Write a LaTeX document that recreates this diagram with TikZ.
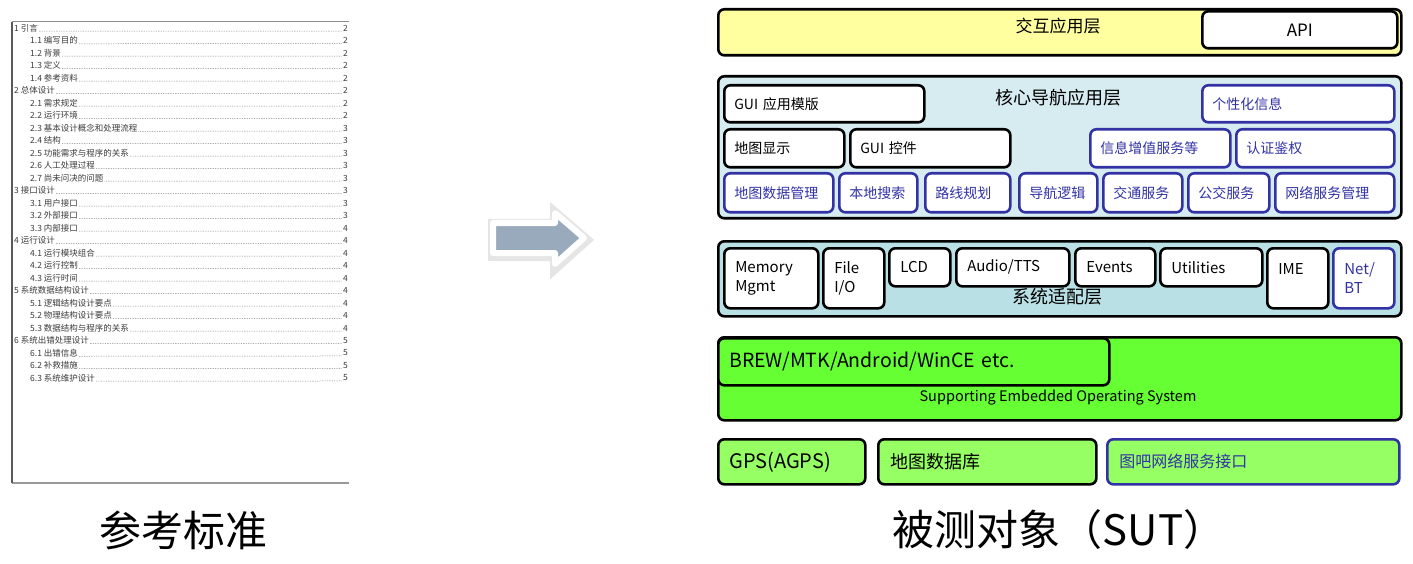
\documentclass[tikz,border=0pt]{standalone}
\usepackage{fontspec}
\setmainfont{Noto Sans CJK SC}
\usetikzlibrary{positioning,shadows}

\definecolor{uiYellow}{RGB}{255,255,160}
\definecolor{coreCyan}{RGB}{214,236,240}
\definecolor{sysCyan}{RGB}{185,224,228}
\definecolor{osGreen}{RGB}{102,255,51}
\definecolor{libGreen}{RGB}{150,255,100}
\definecolor{netBlue}{RGB}{50,50,165}
\definecolor{arrowGray}{RGB}{152,170,188}
\definecolor{tocGray}{RGB}{60,60,60}

\tikzset {
    style layer/.style={
        draw=black,
        line width=2.6pt,
        rectangle, % Set the shape as a rectangle
        rounded corners=6pt,
        inner sep=0pt,
        anchor=north west,
    },
    style module/.style={
        fill=white,
        draw=black,
        line width=2.6pt,
        rectangle, % Set the shape as a rectangle
        rounded corners=6pt,
        inner xsep=10pt,
        inner ysep=0pt,
        anchor=north west,
        align=left,
        font=\fontsize{14}{19}\selectfont,
    },
    style service/.style={
        style module,
        draw=netBlue,
        text=netBlue,
    },
    style title/.style={
        inner sep=0pt,
        font=\fontsize{18}{22}\selectfont,
    },
    style toc/.style={
        inner sep=0pt,
        text=tocGray,
        font=\fontsize{8.5}{10}\selectfont,
    },
}

\begin{document}
\begin{tikzpicture}[x=1pt, y=-1pt]
\useasboundingbox (0,0) rectangle (1413,564);

% reference document (table of contents)
\fill[white] (12,22) rectangle (349,483);
\draw[black!45, line width=1pt] (12,22) -- (349,22);
\draw[black!40, line width=1.2pt] (12,483) -- (349,483);
\draw[black!65, line width=1.5pt] (12,22) -- (12,483);
\foreach \i/\x/\t/\p in {0/14/1 引言/2, 1/30/1.1 编写目的/2, 2/30/1.2 背景/2,
    3/30/1.3 定义/2, 4/30/1.4 参考资料/2, 5/14/2 总体设计/2, 6/30/2.1 需求规定/2,
    7/30/2.2 运行环境/2, 8/30/2.3 基本设计概念和处理流程/3, 9/30/2.4 结构/3,
    10/30/2.5 功能需求与程序的关系/3, 11/30/2.6 人工处理过程/3,
    12/30/2.7 尚未问决的问题/3, 13/14/3 接口设计/3, 14/30/3.1 用户接口/3,
    15/30/3.2 外部接口/3, 16/30/3.3 内部接口/4, 17/14/4 运行设计/4,
    18/30/4.1 运行模块组合/4, 19/30/4.2 运行控制/4, 20/30/4.3 运行时间/4,
    21/14/5 系统数据结构设计/4, 22/30/5.1 逻辑结构设计要点/4,
    23/30/5.2 物理结构设计要点/4, 24/30/5.3 数据结构与程序的关系/4,
    25/14/6 系统出错处理设计/5, 26/30/6.1 出错信息/5, 27/30/6.2 补救措施/5,
    28/30/6.3 系统维护设计/5} {
    \node[style toc, anchor=west] (toc\i) at (\x, {28+12.5*\i}) {\t};
    \node[style toc, anchor=east] (pg\i) at (348, {28+12.5*\i}) {\p};
    \draw[tocGray, line width=0.5pt, dash pattern=on 0.5pt off 1.2pt] ([xshift=1pt]toc\i.base east) -- ([xshift=-1pt]pg\i.base west);
}

% arrow
\filldraw[arrowGray, draw=white, line width=6pt, line join=round,
    preaction={draw=black!10, line width=12pt, transform canvas={shift={(1,2)}}}]
    (493,223) -- (555,223) -- (555,213) -- (584,238) -- (555,264) -- (555,253) -- (493,253) -- cycle;

% system under test
\node[style layer, fill=uiYellow, minimum width=683pt, minimum height=46pt] at (717,8) (ui) {};
\node[style title, font=\fontsize{17}{20}\selectfont] at (1058,26) (uiT) {交互应用层};
\node[style module, align=center, text width=175pt, minimum height=37pt, font=\fontsize{17}{20}\selectfont] at (1201,10) (api) {API};

\node[style layer, fill=coreCyan, minimum width=683pt, minimum height=142pt] at (717,75) (core) {};
\node[style title] at (1058,98) (coreT) {核心导航应用层};
\node[style module, text width=180pt, minimum height=37pt] at (723,84) (guiTpl) {GUI 应用模版};
\node[style service, text width=172pt, minimum height=37pt] at (1201,84) (personal) {个性化信息};
\node[style module, text width=100pt, minimum height=38pt] at (723,128) (mapShow) {地图显示};
\node[style module, text width=140pt, minimum height=38pt] at (849,128) (guiCtl) {GUI 控件};
\node[style service, text width=120pt, minimum height=38pt] at (1089,128) (vas) {信息增值服务等};
\node[style service, text width=138pt, minimum height=38pt] at (1235,128) (auth) {认证鉴权};
\node[style service, text width=89pt, minimum height=39pt] at (723,172) (mapData) {地图数据管理};
\node[style service, text width=58pt, minimum height=39pt] at (838,172) (search) {本地搜索};
\node[style service, text width=65pt, minimum height=39pt] at (924,172) (route) {路线规划};
\node[style service, text width=58pt, minimum height=39pt] at (1018,172) (navLogic) {导航逻辑};
\node[style service, text width=59pt, minimum height=39pt] at (1102,172) (traffic) {交通服务};
\node[style service, text width=61pt, minimum height=39pt] at (1187,172) (bus) {公交服务};
\node[style service, text width=99pt, minimum height=39pt] at (1274,172) (netMgmt) {网络服务管理};

\node[style layer, fill=sysCyan, minimum width=683pt, minimum height=75pt] at (717,240) (sys) {};
\node[style title] at (1057,297) (sysT) {系统适配层};
\node[style module, inner xsep=11pt, text width=72pt, minimum height=60pt, font=\fontsize{15}{19}\selectfont] at (723,247) (mem) {Memory\\Mgmt};
\node[style module, inner xsep=11pt, text width=39pt, minimum height=60pt, font=\fontsize{15}{19}\selectfont] at (822,247) (fileIO) {File\\I/O};
\node[style module, inner xsep=11pt, text width=39pt, minimum height=38pt, font=\fontsize{15}{19}\selectfont] at (888,247) (lcd) {LCD};
\node[style module, inner xsep=11pt, text width=91pt, minimum height=38pt, font=\fontsize{15}{19}\selectfont] at (955,247) (audio) {Audio/TTS};
\node[style module, inner xsep=11pt, text width=58pt, minimum height=38pt, font=\fontsize{15}{19}\selectfont] at (1074,247) (events) {Events};
\node[style module, inner xsep=11pt, text width=80pt, minimum height=38pt, font=\fontsize{15}{19}\selectfont] at (1159,247) (utils) {Utilities};
\node[style module, inner xsep=11pt, text width=39pt, minimum height=60pt, font=\fontsize{15}{19}\selectfont] at (1266,247) (ime) {IME\\\mbox{}};
\node[style service, inner xsep=11pt, text width=39pt, minimum height=60pt, font=\fontsize{15}{19}\selectfont] at (1332,247) (netBT) {Net/\\BT};

\node[style layer, fill=osGreen, minimum width=683pt, minimum height=83pt] at (717,336) (os) {};
\node[style module, fill=osGreen, inner xsep=11pt, text width=369pt, minimum height=47pt, font=\fontsize{19.5}{24}\selectfont] at (717,337) (brew) {BREW/MTK/Android/WinCE etc.};
\node[style title, font=\fontsize{14.5}{18}\selectfont] at (1058,398) (osT) {Supporting Embedded Operating System};

\node[style module, fill=libGreen, inner xsep=11pt, text width=125pt, minimum height=45pt, font=\fontsize{20}{24}\selectfont] at (717,438) (gps) {GPS(AGPS)};
\node[style module, fill=libGreen, inner xsep=12pt, text width=194pt, minimum height=45pt, font=\fontsize{18}{22}\selectfont] at (877,438) (mapDB) {地图数据库};
\node[style service, fill=libGreen, inner xsep=12pt, text width=268pt, minimum height=45pt, font=\fontsize{16}{20}\selectfont] at (1106,438) (mapbar) {图吧网络服务接口};

% captions
\node[inner sep=0pt, font=\fontsize{42}{46}\selectfont] at (183,530) (refLbl) {参考标准};
\node[inner sep=0pt, font=\fontsize{42}{46}\selectfont] at (1059,530) (sutLbl) {被测对象（SUT）};
\end{tikzpicture}
\end{document}
